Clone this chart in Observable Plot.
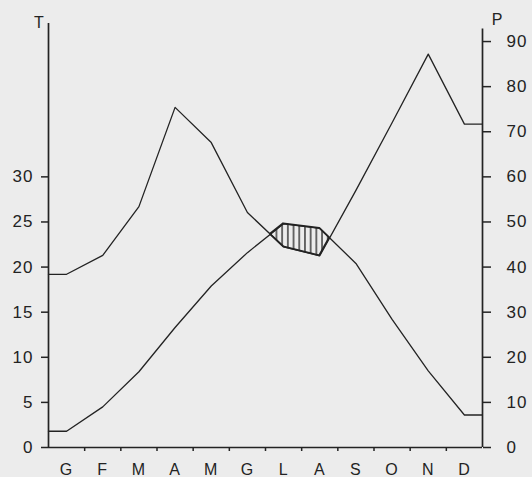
<!DOCTYPE html>
<html><head><meta charset="utf-8">
<script src="https://cdn.jsdelivr.net/npm/d3@7"></script>
<script src="https://cdn.jsdelivr.net/npm/@observablehq/plot@0.6"></script>
<style>
html,body{margin:0;padding:0;background:#ececec;}
#chart{position:relative;width:532px;height:477px;}
</style></head><body><div id="chart"></div>
<script>
const months = ["G","F","M","A","M","G","L","A","S","O","N","D"];
const temperature = [1.8, 4.5, 8.4, 13.3, 17.9, 21.6, 24.8, 24.3, 20.4, 14.2, 8.5, 3.6];
const precipitation = [38.4, 42.6, 53.4, 75.4, 67.6, 52.1, 44.5, 42.5, 57, 72, 87.2, 71.7];
const tTicks = [0, 5, 10, 15, 20, 25, 30];
const pTicks = [0, 10, 20, 30, 40, 50, 60, 70, 80, 90];

const ink = "#232323";
const n = months.length;
// lines run through month centres, extended flat to both axes
const ext = (vals, f = v => v) => [
  {x: 0, y: f(vals[0])},
  ...vals.map((v, i) => ({x: i + 0.5, y: f(v)})),
  {x: n, y: f(vals[n - 1])}
];
const tLine = ext(temperature);
const pLine = ext(precipitation, v => v / 2);

// dry period: where T > P/2 (Bagnouls-Gaussen), with interpolated crossings
const diff = temperature.map((t, i) => t - precipitation[i] / 2);
const dry = [];
for (let i = 0; i < n; i++) {
  if (diff[i] > 0) dry.push({x: i + 0.5, t: temperature[i], p: precipitation[i] / 2});
  if (i < n - 1 && (diff[i] > 0) !== (diff[i + 1] > 0)) {
    const f = diff[i] / (diff[i] - diff[i + 1]);
    const t = temperature[i] + f * (temperature[i + 1] - temperature[i]);
    dry.push({x: i + 0.5 + f, t, p: t});
  }
}

const svg = Plot.plot({
  width: 532,
  height: 477,
  marginLeft: 48,
  marginRight: 50,
  marginTop: 23,
  marginBottom: 30,
  style: {background: "#ececec", fontFamily: "Liberation Sans, Arial, sans-serif", fontSize: "17px", color: ink},
  x: {domain: [0, n], axis: null},
  y: {domain: [0, 47], axis: null},
  marks: [
    Plot.areaY(dry, {x: "x", y1: "p", y2: "t", fill: "url(#hatch)", stroke: ink, strokeWidth: 1.8, curve: "linear"}),
    Plot.line(tLine, {x: "x", y: "y", stroke: ink, strokeWidth: 1.3}),
    Plot.line(pLine, {x: "x", y: "y", stroke: ink, strokeWidth: 1.3}),
    Plot.ruleX([0], {y1: 0, y2: 47, stroke: ink, strokeWidth: 1.7}),
    Plot.ruleX([n], {y1: 0, y2: 46.4, stroke: ink, strokeWidth: 1.7}),
    Plot.ruleY([0], {x1: 0, x2: n, stroke: ink, strokeWidth: 1.7}),
    Plot.axisY({anchor: "left", ticks: tTicks, tickSize: 7, tickPadding: 8, strokeWidth: 1.5, fontSize: 17, label: null}),
    Plot.axisY({anchor: "right", ticks: pTicks.map(p => p / 2), tickFormat: d => String(d * 2), tickSize: 8, tickPadding: 16, strokeWidth: 1.5, fontSize: 17, label: null}),
    Plot.axisX({ticks: d3.range(1, n), tickFormat: () => "", tickSize: 4, strokeWidth: 1.5, label: null}),
    Plot.axisX({ticks: months.map((m, i) => i + 0.5), tickFormat: d => months[Math.floor(d)], tickSize: 0, tickPadding: 16, fontSize: 16, label: null}),
    Plot.text(["T"], {x: 0, y: 47, dx: -9, dy: -1, fontSize: 16, fill: ink}),
    Plot.text(["P"], {x: n, y: 47, dx: 15, dy: -4, fontSize: 16, fill: ink})
  ]
});

const ns = "http://www.w3.org/2000/svg";
const defs = document.createElementNS(ns, "defs");
defs.innerHTML = '<pattern id="hatch" patternUnits="userSpaceOnUse" width="5.7" height="10"><rect width="5.7" height="10" fill="#ececec"/><line x1="2.85" y1="0" x2="2.85" y2="10" stroke="#232323" stroke-width="1.3"/></pattern>';
svg.prepend(defs);
svg.querySelectorAll("text").forEach(t => t.setAttribute("letter-spacing", "1"));
document.getElementById("chart").appendChild(svg);
</script>
</body></html>
